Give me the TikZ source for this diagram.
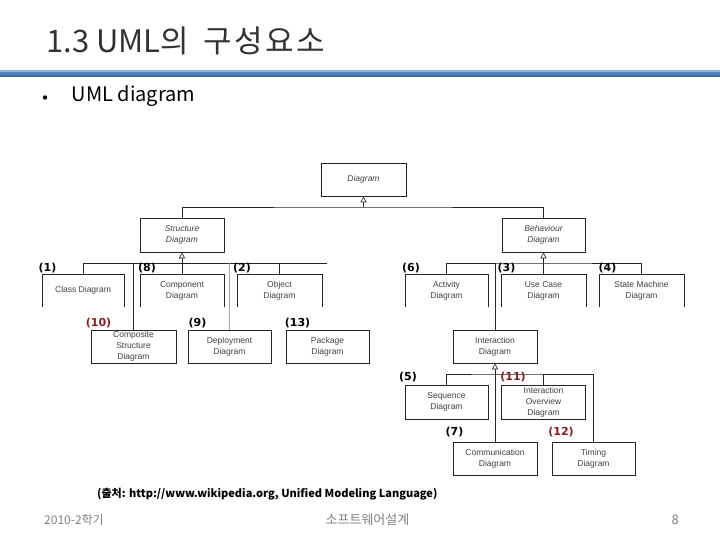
\documentclass[tikz,border=0pt]{standalone}
\usepackage{fontspec}
\usetikzlibrary{arrows.meta}
\setmainfont{Liberation Sans}
\newfontfamily\krfont{Noto Sans CJK KR}
\newfontfamily\krspaced[LetterSpace=8]{Noto Sans CJK KR}
\newfontfamily\lblfont{DejaVu Sans}
\definecolor{lblred}{RGB}{140,28,28}
\definecolor{titlegray}{RGB}{50,50,50}
\definecolor{barblue}{RGB}{79,129,189}
\definecolor{barlight}{RGB}{141,179,226}
\definecolor{bardark}{RGB}{55,90,140}
\definecolor{footgray}{RGB}{128,128,128}
\begin{document}
\begin{tikzpicture}[x=1pt,y=-1pt,
  boxtext/.style={align=center, inner sep=0pt, text=black!75,
    font=\fontsize{8.5}{11}\selectfont},
  box/.style={boxtext, draw=black!85, line width=0.6pt},
  conn/.style={draw=black!85, line width=0.6pt},
  gen/.style={conn, -{Triangle[open,width=6pt,length=6pt]}},
  lbl/.style={inner sep=0pt, font=\lblfont\bfseries\fontsize{11}{12}\selectfont},
  redlbl/.style={lbl, text=lblred},
  titletext/.style={anchor=base west, inner sep=0pt, font=\krfont\fontsize{31}{34}\selectfont},
  foot/.style={inner sep=0pt, text=footgray}]
\useasboundingbox (0,0) rectangle (720,540);
% title
\node[titletext, text=titlegray] (title) at (46.3,53)
  {1.3 UML의\hspace{14pt}{\krspaced 구성요소}};
% blue bar
\fill[barlight] (0,70.5) rectangle (720,72.5);
\fill[barblue] (0,72.5) rectangle (720,75.5);
\fill[bardark!70!gray] (0,75.5) rectangle (720,77);
% bullet
\fill (45,97.5) circle (2.2pt);
\node[anchor=base west, inner sep=0pt, font=\krfont\fontsize{20}{22}\selectfont] (sub) at (71.5,101.5) {UML diagram};
% boxes
\node[box, minimum width=85pt, minimum height=33pt] (diag) at (363.5,179.5) {\itshape Diagram};
\node[box, minimum width=84pt, minimum height=34pt] (struct) at (182,235) {\itshape Structure\\\itshape Diagram};
\node[box, minimum width=83pt, minimum height=34pt] (behav) at (543.5,235) {\itshape Behaviour\\\itshape Diagram};
% open-bottom boxes
\node[boxtext, minimum width=82pt, minimum height=33pt] (class) at (83,290.5) {Class Diagram};
\node[boxtext, minimum width=84pt, minimum height=33pt] (comp) at (182,290.5) {Component\\Diagram};
\node[boxtext, minimum width=85pt, minimum height=33pt] (obj) at (279.5,290.5) {Object\\Diagram};
\node[boxtext, minimum width=83pt, minimum height=33pt] (activity) at (446.5,290.5) {Activity\\Diagram};
\node[boxtext, minimum width=85pt, minimum height=33pt] (usecase) at (543.5,290.5) {Use Case\\Diagram};
\node[boxtext, minimum width=85pt, minimum height=33pt] (statem) at (641.5,290.5) {State Machine\\Diagram};
\foreach \n in {class,comp,obj,activity,usecase,statem}
  \draw[conn] (\n.south west) -- (\n.north west) -- (\n.north east) -- (\n.south east);
\node[box, minimum width=85pt, minimum height=33pt] (composite) at (133.5,346.5) {Composite\\Structure\\Diagram};
\node[box, minimum width=83pt, minimum height=33pt] (deploy) at (229.5,346.5) {Deployment\\Diagram};
\node[box, minimum width=83pt, minimum height=33pt] (package) at (327.5,346.5) {Package\\Diagram};
\node[box, minimum width=84pt, minimum height=33pt] (interact) at (495,346.5) {Interaction\\Diagram};
\node[box, minimum width=83pt, minimum height=34pt] (sequence) at (446.5,402) {Sequence\\Diagram};
\node[box, minimum width=84pt, minimum height=34pt] (overview) at (543.5,402) {Interaction\\Overview\\Diagram};
\node[box, minimum width=84pt, minimum height=33pt] (comm) at (495,458.5) {Communication\\Diagram};
\node[box, minimum width=83pt, minimum height=33pt] (timing) at (593.5,458.5) {Timing\\Diagram};
% connectors: top
\coordinate (tb) at (363.5,207);
\draw[conn] (struct.north) |- (tb) -| (behav.north);
\draw[gen] (tb) -- (diag.south);
% structure
\coordinate (sb) at (182,263);
\coordinate (sbend) at (327,263);
\draw[conn] (class.north) |- (sbend);
\draw[conn] (composite.north) -- (composite.north |- sb);
\draw[conn] (comp.north) -- (sb);
\draw[conn, draw=black!35] (deploy.north) -- (deploy.north |- sb);
\draw[conn] (obj.north) -- (obj.north |- sb);
\draw[gen] (sb) -- (struct.south);
% behaviour
\coordinate (bb) at (543.5,263);
\draw[conn] (activity.north) |- (bb) -| (statem.north);
\draw[conn] (usecase.north) -- (bb);
\draw[conn] (interact.north) -- (interact.north |- bb);
\draw[gen] (bb) -- (behav.south);
% interaction
\coordinate (ib) at (495,374);
\draw[conn] (sequence.north) |- (ib) -| (timing.north);
\draw[conn] (overview.north) -- (overview.north |- ib);
\draw[conn] (comm.north) -- (ib);
\draw[gen] (ib) -- (interact.south);
% labels
\node[lbl] (l1) at (47.5,268.5) {(1)};
\node[lbl] (l8) at (147,268.5) {(8)};
\node[lbl] (l2) at (242,268.5) {(2)};
\node[redlbl] (l10) at (98.5,323.5) {(10)};
\node[lbl] (l9) at (197.5,323.5) {(9)};
\node[lbl] (l13) at (297.5,323.5) {(13)};
\node[lbl] (l6) at (411,268.5) {(6)};
\node[lbl] (l3) at (506.5,268.5) {(3)};
\node[lbl] (l4) at (607.5,268.5) {(4)};
\node[lbl] (l5) at (408,377.5) {(5)};
\node[redlbl] (l11) at (513,377.5) {(11)};
\node[lbl] (l7) at (454.5,432) {(7)};
\node[redlbl] (l12) at (561,432) {(12)};
% source
\node[anchor=west, inner sep=0pt, font=\krfont\bfseries\fontsize{11}{12}\selectfont] (src) at (97,494)
  {(출처: http://www.wikipedia.org, Unified Modeling Language)};
% footer
\node[foot, anchor=west, font=\krfont\fontsize{12}{12}\selectfont] (f1) at (44,520) {2010-2학기};
\node[foot, font=\krfont\fontsize{13}{13}\selectfont] (f2) at (367.5,520) {소프트웨어설계};
\node[foot, anchor=east, font=\krfont\fontsize{13}{13}\selectfont] (f3) at (679,520) {8};
\end{tikzpicture}
\end{document}
